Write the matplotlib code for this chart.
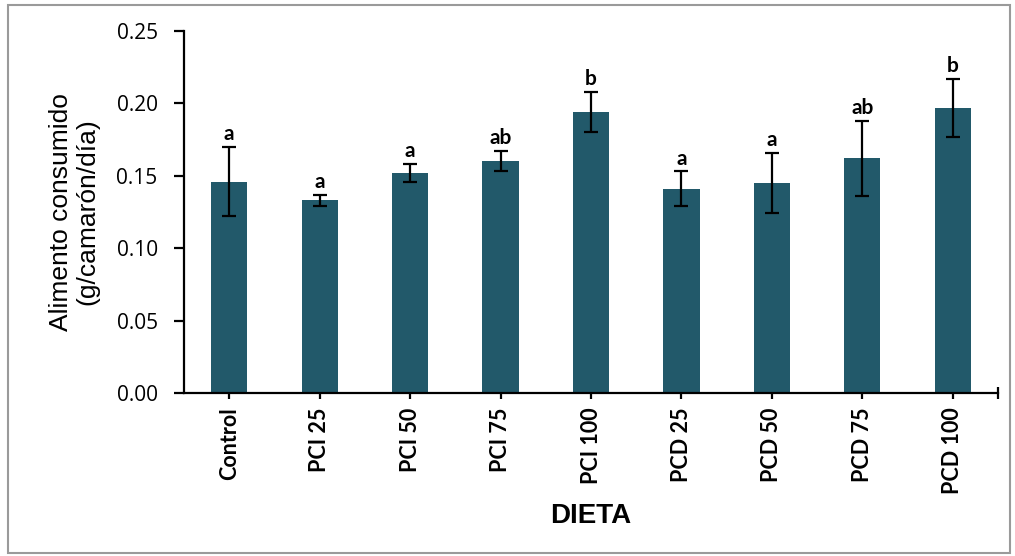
import matplotlib.pyplot as plt
from matplotlib.patches import Rectangle
from matplotlib.ticker import FixedLocator

# Alimento consumido por dieta (media +/- error)
dietas = ["Control", "PCI 25", "PCI 50", "PCI 75", "PCI 100",
          "PCD 25", "PCD 50", "PCD 75", "PCD 100"]
consumo = [0.146, 0.133, 0.152, 0.160, 0.194, 0.141, 0.145, 0.162, 0.197]
error = [0.024, 0.004, 0.006, 0.007, 0.014, 0.012, 0.021, 0.026, 0.020]
letras = ["a", "a", "a", "ab", "b", "a", "a", "ab", "b"]

color_barra = "#22596A"

fig = plt.figure(figsize=(10.15, 5.56), dpi=100)
ax = fig.add_axes([0.1813, 0.2932, 0.802, 0.651])

x = range(len(dietas))
ax.bar(x, consumo, width=0.4, color=color_barra, zorder=2)
ax.errorbar(x, consumo, yerr=error, fmt="none", ecolor="black",
            elinewidth=1.6, capsize=5, capthick=1.6, zorder=3)

# letras de significancia sobre las barras de error
for xi, m, e, l in zip(x, consumo, error, letras):
    ax.annotate(l, (xi, m + e), xytext=(0, 2), textcoords="offset points",
                ha="center", va="bottom", fontsize=15, fontweight="bold",
                family=["Lato", "DejaVu Sans"])

ax.set_xlim(-0.5, 8.5)
ax.set_ylim(0, 0.25)
ax.set_yticks([0.00, 0.05, 0.10, 0.15, 0.20, 0.25])
ax.set_yticklabels(["0.00", "0.05", "0.10", "0.15", "0.20", "0.25"],
                   family=["Open Sans", "DejaVu Sans"], fontsize=15)
ax.set_xticks(list(x))
ax.set_xticklabels(dietas, rotation=90, fontsize=15.5, fontweight="bold",
                   family=["Lato", "DejaVu Sans"])
ax.xaxis.set_minor_locator(FixedLocator([8.5]))

for s in ["top", "right"]:
    ax.spines[s].set_visible(False)
for s in ["left", "bottom"]:
    ax.spines[s].set_linewidth(1.6)

ax.tick_params(axis="y", direction="out", length=7, width=1.6, pad=12)
ax.tick_params(axis="x", which="both", direction="inout", length=9,
               width=1.6, pad=6)

ax.set_xlabel("DIETA", fontsize=20, fontweight="bold",
              family=["Liberation Sans", "DejaVu Sans"], labelpad=6)
ax.set_ylabel("Alimento consumido\n(g/camarón/día)", fontsize=19,
              family=["Liberation Sans", "DejaVu Sans"], labelpad=12,
              linespacing=1.15)

# marco gris alrededor de la figura
fig.patches.append(Rectangle((8 / 1015, 3 / 556), 1002 / 1015, 548 / 556,
                             transform=fig.transFigure, fill=False,
                             edgecolor="#9a9a9a", linewidth=1.5))

fig.savefig("out.png", dpi=100)
